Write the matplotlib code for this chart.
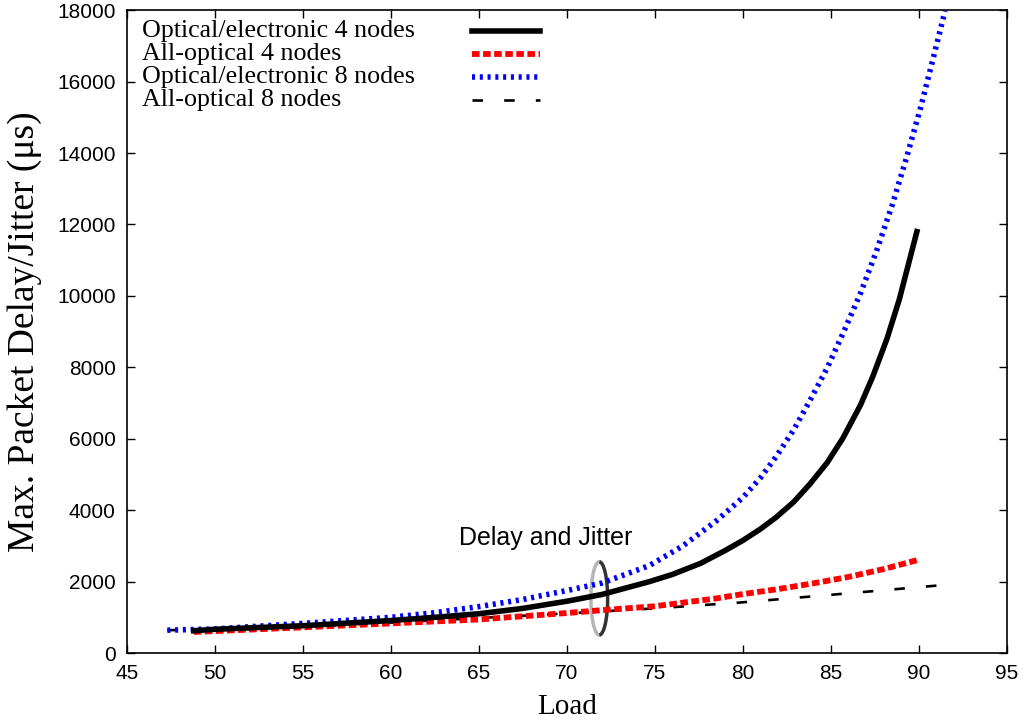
import matplotlib
matplotlib.use('Agg')
import matplotlib.pyplot as plt
from matplotlib.patches import Arc
from matplotlib.lines import Line2D

# Data
load_oe4 = [48.8, 50, 55, 60, 62.5, 65, 67.5, 70, 72, 74.7, 76, 77.6, 79, 80, 81, 81.9,
            82.9, 83.8, 84.8, 85.7, 86.7, 87.4, 88.2, 88.9, 89.9]
delay_oe4 = [625, 665, 765, 910, 1000, 1100, 1250, 1450, 1640, 2000, 2200, 2510, 2870, 3150, 3470, 3800,
             4230, 4720, 5330, 6020, 6950, 7750, 8800, 9900, 11800]

load_ao4 = [48.8, 50, 55, 60, 65, 70, 72, 75, 78.5, 80, 82, 84, 86, 88, 89.9]
delay_ao4 = [590, 615, 720, 830, 940, 1120, 1200, 1310, 1530, 1650, 1790, 1950, 2130, 2350, 2600]

load_oe8 = [47.3, 50, 55, 60, 62.5, 65, 67.5, 70, 72, 74.7, 76.6, 78.5, 80, 81, 81.9, 82.9,
            83.8, 84.8, 85.7, 86.7, 87.6, 88.5, 89.3, 90.1, 90.8, 91.5]
delay_oe8 = [640, 675, 830, 1000, 1130, 1300, 1500, 1750, 1960, 2450, 3000, 3700, 4350, 4900, 5500, 6250,
             7050, 7980, 8950, 10080, 11250, 12550, 13850, 15250, 16600, 17980]

load_ao8 = [47.3, 50, 55, 60, 65, 70, 75, 80, 85, 91.3]
delay_ao8 = [640, 660, 740, 850, 980, 1110, 1250, 1420, 1630, 1900]

labels = ['Optical/electronic 4 nodes', 'All-optical 4 nodes',
          'Optical/electronic 8 nodes', 'All-optical 8 nodes']

# annotation ellipse (load, delay) and size
ellipse_center = (71.85, 1530)
ellipse_w, ellipse_h = 0.95, 2050

serif = 'Liberation Serif'
sans = 'Liberation Sans'

fig = plt.figure(figsize=(10.23, 7.24), dpi=100)
ax = fig.add_axes([0.124, 0.098, 0.86, 0.888])

styles = [
    dict(color='black', lw=4.0, linestyle='-', solid_joinstyle='round'),
    dict(color='red', lw=4.2, linestyle=(0, (1.3, 0.6)), dash_capstyle='butt'),
    dict(color='blue', lw=4.0, linestyle=(0, (0.55, 0.85)), dash_capstyle='butt'),
    dict(color='black', lw=1.9, linestyle=(0, (4, 8)), dash_capstyle='butt'),
]

series = [(load_oe4, delay_oe4), (load_ao4, delay_ao4),
          (load_oe8, delay_oe8), (load_ao8, delay_ao8)]

# draw in reverse so the thick black line stays on top like the original
for (x, y), st in zip(series[::-1], styles[::-1]):
    ax.plot(x, y, **st)

# legend drawn gnuplot-style: text left, sample on the right
for i, (lab, st) in enumerate(zip(labels, styles)):
    yy = 0.967 - i * 0.0355
    ax.text(0.017, yy, lab, transform=ax.transAxes, fontsize=18.7,
            family=serif, va='center', ha='left')
    ax.add_line(Line2D([0.392, 0.47], [yy, yy], transform=ax.transAxes, **st))

# ellipse around the curves with a light-to-dark edge
ax.add_patch(Arc(ellipse_center, ellipse_w, ellipse_h, theta1=90, theta2=270,
                 color='#b5b5b5', lw=2.5))
ax.add_patch(Arc(ellipse_center, ellipse_w, ellipse_h, theta1=-90, theta2=90,
                 color='#333333', lw=2.5))
ax.text(68.8, 3220, 'Delay and Jitter', fontsize=18, family=sans,
        ha='center', va='center')

ax.set_xlim(45, 95)
ax.set_ylim(0, 18000)
ax.set_xticks(range(45, 96, 5))
ax.set_yticks(range(0, 18001, 2000))
ax.tick_params(direction='in', top=True, right=True, length=6, width=1,
               labelsize=15, pad=8)
for lab in ax.get_xticklabels() + ax.get_yticklabels():
    lab.set_family(sans)
for s in ax.spines.values():
    s.set_linewidth(1.2)

ax.set_xlabel('Load', fontsize=21, family=serif)
ax.set_ylabel('Max. Packet Delay/Jitter (\u03bcs)', fontsize=27, family=serif)
ax.xaxis.set_label_coords(0.5, -0.064)
ax.yaxis.set_label_coords(-0.097, 0.5)

plt.savefig('out.png', dpi=100)
